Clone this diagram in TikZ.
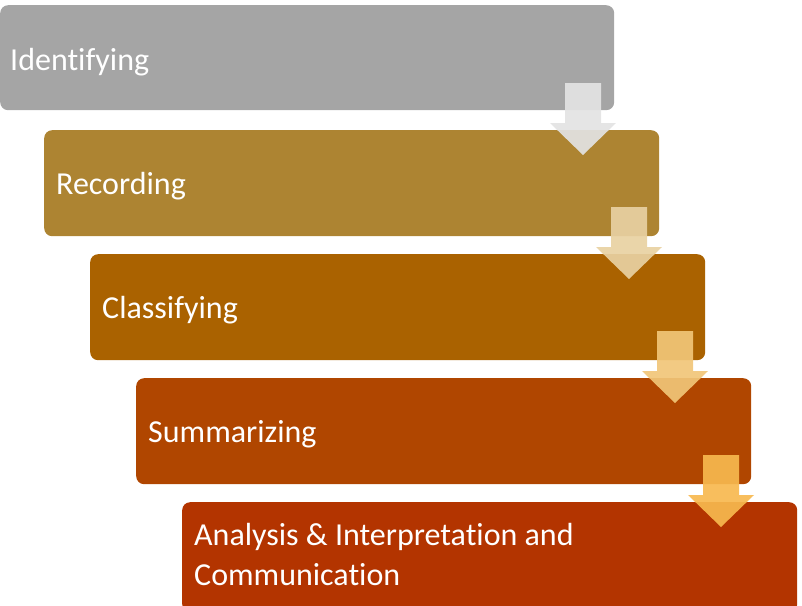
\documentclass[tikz,border=0pt]{standalone}
\usepackage{fontspec}
\setmainfont[Ligatures={NoCommon,NoRare,NoDiscretionary},Contextuals=NoAlternate]{Carlito}
\definecolor{cA}{HTML}{A5A5A5}
\definecolor{cB}{HTML}{AD8432}
\definecolor{cC}{HTML}{AA6200}
\definecolor{cD}{HTML}{B04600}
\definecolor{cE}{HTML}{B33400}
\definecolor{aA}{HTML}{E3E3E3}
\definecolor{aB}{HTML}{E8D1A2}
\definecolor{aC}{HTML}{F1C678}
\definecolor{aD}{HTML}{F7B94F}
\tikzset{
  stepbox/.style={rectangle, rounded corners=8pt, inner sep=0pt, minimum width=615pt, minimum height=106pt, anchor=north west},
  steptext/.style={text=white, font=\fontsize{32}{40}\selectfont, anchor=base west, inner sep=0pt, align=left},
  flowarrow/.style={fill opacity=0.92}
}
\begin{document}
\begin{tikzpicture}[x=1pt,y=-1pt]
\useasboundingbox (0,0) rectangle (802,605);
\node[stepbox, fill=cA, minimum width=614pt, minimum height=105pt] (b1) at (0,5) {};
\node[stepbox, fill=cB] (b2) at (44,130) {};
\node[stepbox, fill=cC] (b3) at (90,254) {};
\node[stepbox, fill=cD] (b4) at (136,378) {};
\node[stepbox, fill=cE, minimum height=110pt] (b5) at (182,502) {};
\node[steptext] (t1) at (10,70) {Identifying};
\node[steptext] (t2) at (56,194) {Recording};
\node[steptext] (t3) at (102,318) {Classifying};
\node[steptext] (t4) at (148,442) {Summarizing};
\node[steptext] (t5) at (194,585) {Analysis \& Interpretation and\\Communication};
\foreach \k/\c in {0/aA,1/aB,2/aC,3/aD}{
  \fill[flowarrow, fill=\c, shift={(46*\k,124*\k)}]
    (565,83) -- (601,83) -- (601,123) -- (616,123) -- (583,155) -- (550,123) -- (565,123) -- cycle;
}
\end{tikzpicture}
\end{document}
